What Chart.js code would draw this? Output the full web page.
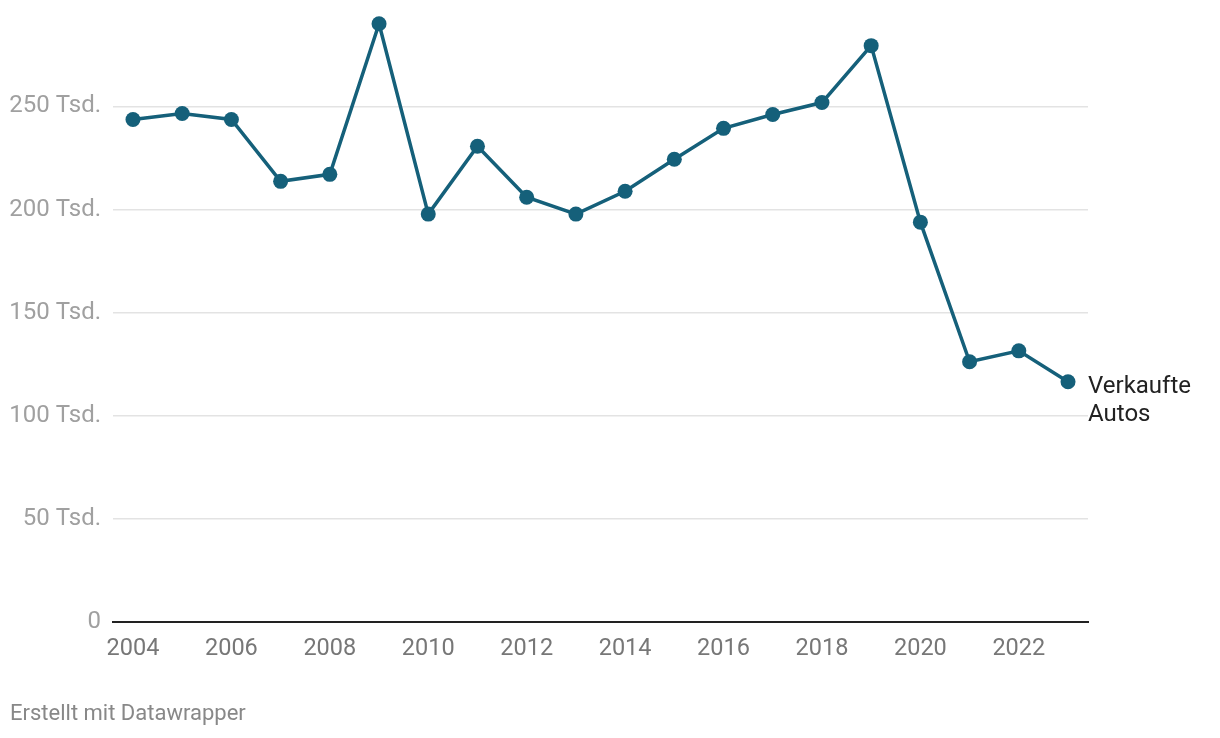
<!DOCTYPE html>
<html lang="de">
<head>
<meta charset="UTF-8">
<title>Verkaufte Autos</title>
<script src="https://cdn.jsdelivr.net/npm/chart.js"></script>
<style>
    body {
        margin: 0;
        padding: 0;
        background: #fff;
        font-family: Roboto, sans-serif;
    }
    .wrap {
        position: relative;
        width: 1220px;
        height: 738px;
    }
    .footer {
        position: absolute;
        left: 10px;
        top: 700px;
        font-size: 22px;
        color: #888;
    }
</style>
</head>
<body>
<div class="wrap">
    <canvas id="chart" width="1220" height="738"></canvas>
    <div class="footer">Erstellt mit Datawrapper</div>
</div>
<script>
// Verkaufte Autos (in Tsd.)
const years = [2004, 2005, 2006, 2007, 2008, 2009, 2010, 2011, 2012, 2013,
               2014, 2015, 2016, 2017, 2018, 2019, 2020, 2021, 2022, 2023];
const sales = [243.7, 246.6, 243.7, 213.7, 217.1, 290.1, 197.8, 230.7, 206.0, 197.8,
               208.9, 224.4, 239.4, 246.1, 251.9, 279.5, 193.9, 126.2, 131.5, 116.5];
const xTicks = [2004, 2006, 2008, 2010, 2012, 2014, 2016, 2018, 2020, 2022];
const yTicks = [0, 50, 100, 150, 200, 250];
const seriesLabel = ['Verkaufte', 'Autos'];

const lineColor = '#15607a';

// Beschriftung rechts neben dem letzten Punkt
const endLabel = {
    id: 'endLabel',
    afterDatasetsDraw(chart) {
        const pt = chart.getDatasetMeta(0).data[sales.length - 1];
        const ctx = chart.ctx;
        ctx.save();
        ctx.font = '24px Roboto';
        ctx.fillStyle = '#222';
        ctx.textAlign = 'left';
        ctx.textBaseline = 'middle';
        seriesLabel.forEach((t, i) => ctx.fillText(t, pt.x + 20, pt.y + 5 + i * 28));
        ctx.restore();
    }
};

const chart = new Chart(document.getElementById('chart'), {
    type: 'line',
    data: {
        datasets: [{
            data: years.map((y, i) => ({ x: y, y: sales[i] })),
            borderColor: lineColor,
            backgroundColor: lineColor,
            borderWidth: 3.5,
            pointRadius: 7.5,
            pointHoverRadius: 7.5,
            pointBorderWidth: 0,
            tension: 0,
            fill: false
        }]
    },
    options: {
        responsive: false,
        animation: false,
        layout: { padding: { left: 0, right: 132, top: 2, bottom: 76 } },
        plugins: {
            legend: { display: false },
            tooltip: { enabled: false }
        },
        scales: {
            x: {
                type: 'linear',
                min: 2003.594,
                max: 2023.406,
                afterBuildTicks: (scale) => { scale.ticks = xTicks.map(v => ({ value: v })); },
                afterFit: (scale) => { scale.height = 40; },
                grid: { display: false },
                border: { display: true, color: '#222', width: 2 },
                ticks: {
                    padding: 5,
                    maxRotation: 0,
                    color: '#777',
                    font: { family: 'Roboto', size: 23.5 },
                    callback: (v) => String(v)
                }
            },
            y: {
                min: 0,
                max: 298,
                afterBuildTicks: (scale) => { scale.ticks = yTicks.map(v => ({ value: v })); },
                afterFit: (scale) => {
                    scale.width = 113;
                    scale.paddingTop = 0;
                    scale.paddingBottom = 0;
                },
                border: { display: false },
                grid: {
                    drawTicks: false,
                    color: (c) => c.tick && c.tick.value === 0 ? 'rgba(0,0,0,0)' : '#e3e3e3',
                    lineWidth: 1.5
                },
                ticks: {
                    padding: 12,
                    color: '#a0a0a0',
                    font: { family: 'Roboto', size: 24 },
                    callback: (v) => v === 0 ? '0' : v + ' Tsd.'
                }
            }
        }
    },
    plugins: [endLabel]
});
</script>
</body>
</html>
